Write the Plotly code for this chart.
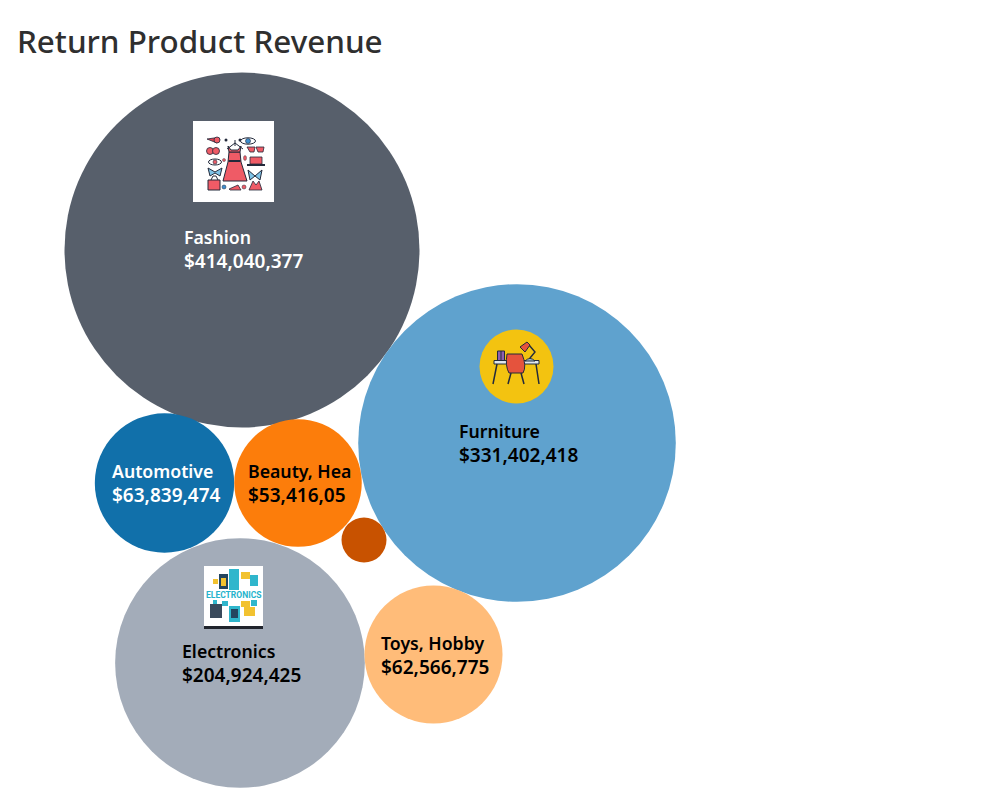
import plotly.graph_objects as go

# Data
categories = ["Fashion", "Furniture", "Automotive", "Beauty, Health", "Other", "Electronics", "Toys, Hobby"]
revenue = [414040377, 331402418, 63839474, 53416050, 6650000, 204924425, 62566775]
name_labels = ["Fashion", "Furniture", "Automotive", "Beauty, Hea", "", "Electronics", "Toys, Hobby"]
value_labels = ["$414,040,377", "$331,402,418", "$63,839,474", "$53,416,05", "", "$204,924,425", "$62,566,775"]
# Packed-bubble layout position of each category (Tableau's packed bubbles have no data axes)
pack_x = [242, 517, 164.5, 298, 364, 240, 433.5]
pack_y = [250, 443, 483, 483, 540, 663, 654.5]
bubble_colors = ["#575f6b", "#5fa2ce", "#1170aa", "#fc7d0b", "#c85200", "#a3acb9", "#ffbc79"]
label_colors = ["white", "black", "white", "black", "black", "black", "black"]
label_x = [182, 457, 110, 246, 0, 180, 379]
label_y = [237, 431, 471, 471, 0, 651, 643]

LABEL_FONT = "Noto Sans"
shapes, annots = [], []


def rect(x0, y0, x1, y1, fill, line=None, w=1):
    shapes.append(dict(type="rect", x0=x0, y0=y0, x1=x1, y1=y1, fillcolor=fill, layer="above",
                       line=dict(color=line or fill, width=w if line else 0)))


def oval(cx, cy, rx, ry, fill, line=None, w=1):
    shapes.append(dict(type="circle", x0=cx - rx, y0=cy - ry, x1=cx + rx, y1=cy + ry, fillcolor=fill,
                       layer="above", line=dict(color=line or fill, width=w if line else 0)))


def path(d, fill="rgba(0,0,0,0)", line="#1f2a3a", w=1.2):
    shapes.append(dict(type="path", path=d, fillcolor=fill, layer="above",
                       line=dict(color=line, width=w)))


DK = "#232a3b"
RED = "#ef5b66"
BLU = "#3d8fd0"

# --- Fashion icon ---
rect(193, 121, 274, 202, "white")
path("M229 152 L240 152 L241 162 L247 181 L223 181 L228 162 Z", RED, DK, 1)
path("M228 146 L231 150 L238 150 L241 146 L240 152 L229 152 Z", RED, DK, 1)
path("M235 146 L235 140 M227 149 L235 143 L243 149", line=DK, w=1)
rect(228.5, 160, 240.5, 162, DK)
# left column
path("M207 139 L217 143 L220 139 L214 138 Z", "#e04050", DK, 0.8); oval(217, 140, 3, 3, RED, DK, 0.8)
oval(210, 151, 3.5, 3.5, RED, DK, 0.8); oval(216, 151, 3.5, 3.5, RED, DK, 0.8)
oval(215, 162, 6.5, 3, "white", DK, 1); oval(215, 162, 2, 2, RED, DK, 0.6)
path("M208 168 L215 172 L222 168 L220 176 L215 173 L210 176 Z", "#7fc4e8", DK, 1)
rect(208, 180, 220, 190, RED, DK, 1)
path("M211 180 L213 176 L216 176 L218 180", line=DK, w=1)
# inner column accents
oval(224, 160, 1.5, 1.5, RED, DK, 0.4); oval(245, 158, 1.5, 2.5, RED, DK, 0.4)
oval(226, 140, 1.5, 1.5, DK); oval(240, 140, 1.5, 1.5, DK)
# right column
oval(248, 141, 7.5, 3.2, "white", DK, 1); oval(248, 141, 2.5, 2.5, BLU, DK, 0.6)
path("M247 147 L255 147 L254 152 L250 152 Z M256 147 L264 147 L263 152 L258 152 Z", RED, DK, 0.8)
path("M250 157 L262 157 L262 164 L250 164 Z", RED, DK, 0.8); rect(247, 164, 265, 166, DK)
path("M248 170 L255 176 L262 170 L260 180 L255 176 L250 180 Z", "#7fc4e8", DK, 1)
path("M249 190 L253 181 L256 185 L259 181 L262 190 Z", RED, DK, 0.8)
# bottom row
path("M229 189 L238 185 L241 190 L230 190 Z", RED, DK, 0.8)
oval(224, 187, 2, 2, BLU, DK, 0.5); oval(244, 187, 2, 2, RED, DK, 0.5)

# --- Furniture icon ---
oval(516.5, 366.5, 37, 37, "#f3c310")
path("M497.5 351 L504.5 351 L504.5 361 L497.5 361 Z M501 351 L501 361", "#8e5fb0", DK, 1)
rect(494, 360.5, 539, 364, "#dfe6ee", DK, 1)
path("M507 354 L522 354 Q527 366 523 373 L509 373 Q505 366 507 354 Z", "#e5533d", DK, 1)
path("M497 364 L493 384 M536 364 L539 384 M511 373 L508 384 M521 373 L524 384", line=DK, w=1.5)
path("M526 345 L529 345 L535 352 L530 358 L530 360", line=DK, w=1.4)
path("M520 347 L527 342 L530 345 L525 352 Z", "#e5533d", DK, 1)
path("M525 361 Q530 356 535 361 Z", "#a9c6d8", DK, 1)

# --- Electronics icon ---
rect(204, 566, 263, 629, "white")
rect(204, 626, 263, 629, "#20242c")
TEAL = "#2fb6cc"
rect(229, 569, 239, 590, TEAL)
rect(241, 572, 250, 579, "#f2c230"); rect(250, 575, 258, 586, TEAL)
rect(219, 574, 228, 589, "#24455f"); rect(221, 578, 226, 586, "#f2c230")
rect(213, 579, 218, 584, "#f2c230")
rect(210, 604, 222, 618, "#3a4a5c"); rect(213, 600, 217, 604, TEAL)
rect(229, 606, 240, 622, TEAL); rect(231, 609, 238, 618, "#24455f")
rect(241, 601, 250, 607, "#f2c230"); rect(244, 607, 255, 616, "#f2c230")
rect(222, 601, 228, 606, TEAL); rect(251, 600, 257, 606, TEAL)
annots.append(dict(x=233.5, y=595, text="ELECTRONICS", showarrow=False, xanchor="center", yanchor="middle",
                   font=dict(family="Roboto", size=8.5, color="#25b3cc", weight="bold")))

# Labels
for nm, val, x, y, col in zip(name_labels, value_labels, label_x, label_y, label_colors):
    if not nm:
        continue
    annots.append(dict(x=x, y=y, text=nm, showarrow=False, xanchor="left", yanchor="middle",
                       font=dict(family=LABEL_FONT, size=17.7, color=col, weight=600)))
    annots.append(dict(x=x, y=y + 24, text=val, showarrow=False, xanchor="left", yanchor="middle",
                       font=dict(family=LABEL_FONT, size=19, color=col, weight=600)))

annots.append(dict(x=15, y=40, text="Return Product Revenue", showarrow=False, xanchor="left", yanchor="middle",
                   font=dict(family=LABEL_FONT, size=31.4, color="#2f2f2f", weight=500)))

max_r = 177.5
fig = go.Figure(go.Scatter(
    x=pack_x, y=pack_y, mode="markers", text=categories, hoverinfo="text",
    marker=dict(size=revenue, sizemode="area", sizeref=max(revenue) / (2 * max_r ** 2),
                color=bubble_colors, opacity=1, line=dict(width=0)),
))
# The page has an 8px body margin, so the plot covers x 8-1000 and y 8-800 of the window
fig.update_layout(
    width=992, height=792, autosize=False, margin=dict(l=0, r=0, t=0, b=0),
    paper_bgcolor="white", plot_bgcolor="white", showlegend=False,
    xaxis=dict(range=[8, 1000], visible=False, fixedrange=True),
    yaxis=dict(range=[800, 8], visible=False, fixedrange=True),
    shapes=shapes, annotations=annots,
)
fig.write_html("out.html", config={"displayModeBar": False})
